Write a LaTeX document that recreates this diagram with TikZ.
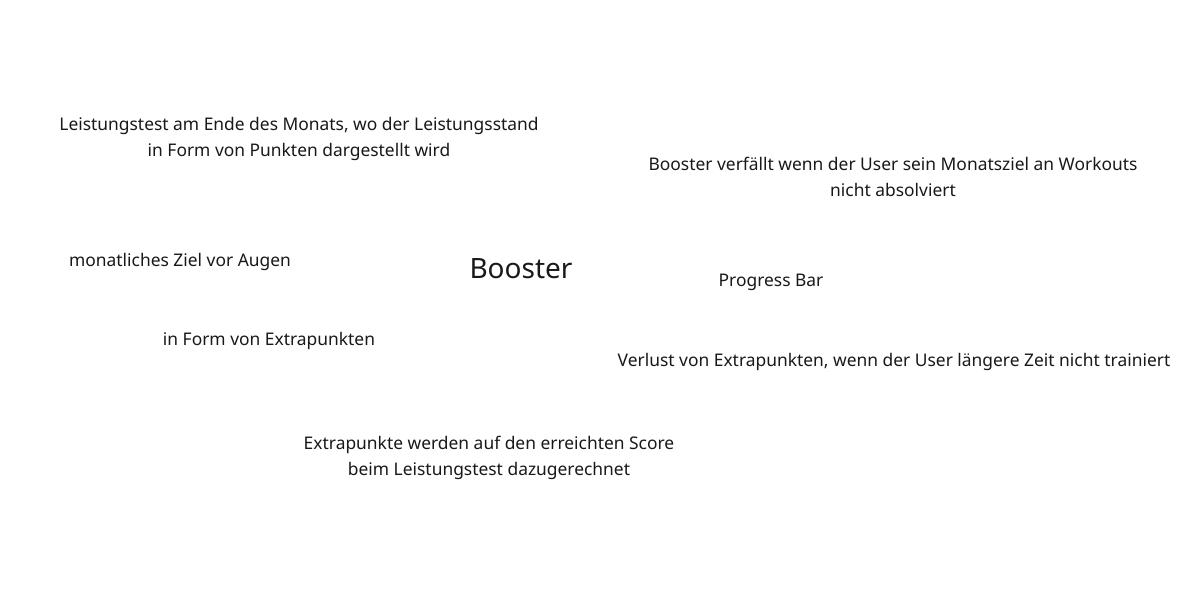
\documentclass[tikz,border=0pt]{standalone}
\usepackage{fontspec}
\setmainfont{Noto Sans}
\begin{document}
\begin{tikzpicture}[x=1pt,y=1pt,
  lbl/.style={align=center, inner sep=0pt, text=black!90, font=\fontsize{17.4}{26}\selectfont},
  big/.style={inner sep=0pt, text=black!90, font=\fontsize{28}{32}\selectfont}]
\useasboundingbox[fill=white] (0,0) rectangle (1190,600);
\node[lbl] (leist) at (299,461) {Leistungstest am Ende des Monats, wo der Leistungsstand\\in Form von Punkten dargestellt wird};
\node[lbl] (verf) at (893,423) {Booster verfällt wenn der User sein Monatsziel an Workouts\\nicht absolviert};
\node[lbl] (ziel) at (180,338) {monatliches Ziel vor Augen};
\node[big] (boost) at (521,331) {Booster};
\node[lbl] (prog) at (771,318) {Progress Bar};
\node[lbl] (form) at (269,259) {in Form von Extrapunkten};
\node[lbl] (verl) at (894,238) {Verlust von Extrapunkten, wenn der User längere Zeit nicht trainiert};
\node[lbl] (extra) at (489,142) {Extrapunkte werden auf den erreichten Score\\beim Leistungstest dazugerechnet};
\end{tikzpicture}
\end{document}
